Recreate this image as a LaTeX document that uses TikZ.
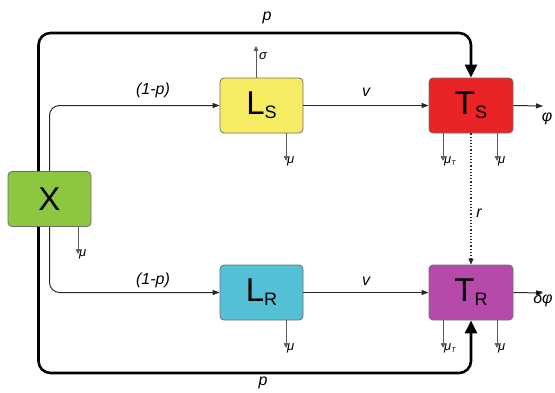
\documentclass[tikz,border=0pt]{standalone}
\usepackage{fontspec}
\setmainfont{Liberation Sans}
\usetikzlibrary{arrows.meta}
\definecolor{cX}{RGB}{141,198,63}
\definecolor{cLS}{RGB}{245,236,100}
\definecolor{cTS}{RGB}{232,36,38}
\definecolor{cLR}{RGB}{84,192,214}
\definecolor{cTR}{RGB}{182,74,170}
\definecolor{cBorder}{RGB}{110,110,110}
\definecolor{cLine}{RGB}{40,40,40}
\definecolor{cThin}{RGB}{90,90,90}
\tikzset{
  box/.style={draw=cBorder, line width=0.8pt, rounded corners=4pt, minimum width=83pt, minimum height=55pt, inner sep=0pt, font=\fontsize{33}{33}\selectfont},
  conn/.style={draw=cLine, line width=1pt, -{Triangle[length=7pt,width=5pt]}, rounded corners=10pt},
  thickconn/.style={draw=black, line width=2.6pt, -{Triangle[length=13pt,width=12pt]}, rounded corners=12pt},
  loss/.style={draw=cThin, line width=0.7pt, -{Triangle[length=5pt,width=4.5pt]}},
  lbl/.style={font=\fontsize{16}{16}\selectfont\itshape, inner sep=0pt},
  slbl/.style={font=\fontsize{13}{13}\selectfont\itshape, inner sep=1pt}
}
\newcommand{\subx}[1]{\raisebox{-4pt}{\fontsize{18}{18}\selectfont #1}}
\newcommand{\tsub}{\raisebox{-2pt}{\fontsize{7}{7}\selectfont T}}
\begin{document}
\begin{tikzpicture}[x=1pt,y=-1pt]
\useasboundingbox (0,0) rectangle (555,392);
% boxes
\node[box, fill=cX] (X) at (49.5,199) {X};
\node[box, fill=cLS] (LS) at (261.5,105.5) {L\subx{S}};
\node[box, fill=cTS, minimum width=84pt] (TS) at (471,105.5) {T\subx{S}};
\node[box, fill=cLR] (LR) at (261.5,292.5) {L\subx{R}};
\node[box, fill=cTR, minimum width=84pt] (TR) at (471,292.5) {T\subx{R}};
% helper coordinates
\coordinate (ptop) at (471,33);
\coordinate (pbot) at (471,373);
\coordinate (sig) at (256,46);
\coordinate (muLS) at (286,161);
\coordinate (muX) at (78,254);
\coordinate (muLR) at (286,348);
\coordinate (muTTS) at (443,161);
\coordinate (muTS) at (497,161);
\coordinate (muTTR) at (443,348);
\coordinate (muTR) at (497,348);
\coordinate (phi) at (543,106);
\coordinate (dphi) at (543,293);
% p connectors
\draw[thickconn] ([xshift=-11pt]X.north) |- (ptop) -- (TS.north);
\draw[thickconn] ([xshift=-11pt]X.south) |- (pbot) -- (TR.south);
% (1-p) connectors
\draw[conn] (X.north) |- (LS.west);
\draw[conn] (X.south) |- (LR.west);
% v connectors
\draw[conn] (LS.east) -- (TS.west);
\draw[conn] (LR.east) -- (TR.west);
% r dotted
\draw[draw=cLine, line width=1.2pt, dotted, -{Triangle[length=6pt,width=5pt]}] (TS.south) -- (TR.north);
% outflows
\draw[conn] (TS.east) -- (phi);
\draw[conn] (TR.east) -- (dphi);
% losses
\draw[loss] (X.south -| muX) -- (muX);
\draw[loss] (LS.north -| sig) -- (sig);
\draw[loss] (LS.south -| muLS) -- (muLS);
\draw[loss] (LR.south -| muLR) -- (muLR);
\draw[loss] (TS.south -| muTTS) -- (muTTS);
\draw[loss] (TS.south -| muTS) -- (muTS);
\draw[loss] (TR.south -| muTTR) -- (muTTR);
\draw[loss] (TR.south -| muTR) -- (muTR);
% labels
\node[lbl] (lp1) at (267,18) {p};
\node[lbl] (lp2) at (263,383) {p};
\node[lbl] (l1p1) at (153,90) {(1-p)};
\node[lbl] (l1p2) at (153,280) {(1-p)};
\node[lbl] (lv1) at (366,92) {v};
\node[lbl] (lv2) at (366,281) {v};
\node[lbl] (lr) at (479,213) {r};
\node[lbl] (lphi) at (547,119) {φ};
\node[lbl] (ldphi) at (543,299) {δφ};
\node[slbl, anchor=west] (lsig) at (258,56) {σ};
\node[slbl, anchor=west] (lmuX) at (muX) {μ};
\node[slbl, anchor=west] (lmuLS) at (muLS) {μ};
\node[slbl, anchor=west] (lmuLR) at (muLR) {μ};
\node[slbl, anchor=west] (lmuTTS) at (muTTS) {μ\tsub};
\node[slbl, anchor=west] (lmuTS) at (muTS) {μ};
\node[slbl, anchor=west] (lmuTTR) at (muTTR) {μ\tsub};
\node[slbl, anchor=west] (lmuTR) at (muTR) {μ};
\end{tikzpicture}
\end{document}
